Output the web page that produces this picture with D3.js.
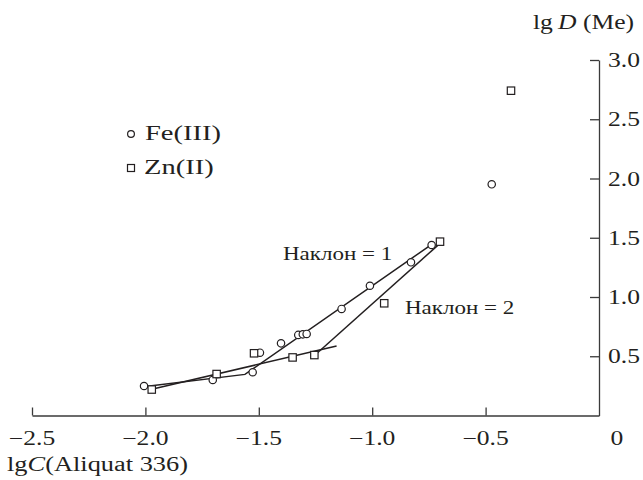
<!DOCTYPE html>
<html><head><meta charset="utf-8">
<script src="https://cdn.jsdelivr.net/npm/d3@7"></script>
<style>body{margin:0;background:#fff}svg{display:block}text{font-family:"Liberation Serif","Times New Roman",serif;fill:#231f20}</style>
</head><body>
<script>
// Data
const feX = [-2.006, -1.703, -1.527, -1.495, -1.402, -1.326, -1.306, -1.289, -1.135, -1.010, -0.829, -0.738, -0.473];
const feY = [0.249, 0.300, 0.365, 0.530, 0.609, 0.680, 0.685, 0.688, 0.899, 1.095, 1.293, 1.439, 1.951];
const znX = [-1.972, -1.686, -1.521, -1.351, -1.255, -0.947, -0.701, -0.388];
const znY = [0.219, 0.350, 0.525, 0.490, 0.510, 0.947, 1.467, 2.741];
const feFitX = [-2.0, -1.561, -0.731];
const feFitY = [0.245, 0.347, 1.453];
const znFitLowX = [-1.972, -1.157];
const znFitLowY = [0.222, 0.586];
const znFitHighX = [-1.252, -0.701];
const znFitHighY = [0.510, 1.453];
const xTicks = [-2.5, -2.0, -1.5, -1.0, -0.5];
const xTickLabels = ["\u22122.5", "\u22122.0", "\u22121.5", "\u22121.0", "\u22120.5"];
const yTicks = [0.5, 1.0, 1.5, 2.0, 2.5, 3.0];
const yTickLabels = ["0.5", "1.0", "1.5", "2.0", "2.5", "3.0"];
const seriesNames = ["Fe(III)", "Zn(II)"];
const slopeLabels = ["Наклон = 1", "Наклон = 2"];

const W = 643, H = 480, SX = 1.28;
const svg = d3.select("body").append("svg").attr("width", W).attr("height", H);
const x = d3.scaleLinear().domain([-2.5, 0]).range([32, 599]);
const y = d3.scaleLinear().domain([0, 3]).range([415.5, 60]);
const ink = "#231f20";

function label(px, py, str, anchor, size, sx) {
  const t = svg.append("text")
    .attr("transform", `translate(${px},${py}) scale(${sx || SX},1)`)
    .attr("text-anchor", anchor || "start")
    .attr("font-size", size || 20);
  return t;
}

// axes
svg.append("g").attr("transform", `translate(0,${y(0)})`)
  .call(d3.axisBottom(x).tickValues(xTicks).tickSizeInner(-8).tickSizeOuter(0).tickFormat(""));
svg.append("g").attr("transform", `translate(${x(0)},0)`)
  .call(d3.axisLeft(y).tickValues(yTicks).tickSizeInner(9).tickSizeOuter(0).tickFormat(""));
svg.selectAll(".domain, .tick line").attr("stroke", "#3a3a3a").attr("stroke-width", 1.3);

xTicks.forEach((v, i) => label(x(v), 445, null, "middle").text(xTickLabels[i]));
label(x(0) + 18, 445, null, "middle").text("0");
yTicks.forEach((v, i) => label(608, y(v) + 7, null, "start").text(yTickLabels[i]));

// axis titles
const yt = label(533, 29, null, "start");
yt.append("tspan").text("lg");
yt.append("tspan").attr("font-style", "italic").text("\u2009D");
yt.append("tspan").text(" (Me)");
const xt = label(7, 471, null, "start", 20, 1.32);
xt.append("tspan").text("lg");
xt.append("tspan").attr("font-style", "italic").text("C");
xt.append("tspan").text("(Aliquat 336)");

// fit lines
const line = d3.line().x(d => x(d[0])).y(d => y(d[1]));
const fits = [
  d3.zip(feFitX, feFitY),
  d3.zip(znFitLowX, znFitLowY),
  d3.zip(znFitHighX, znFitHighY)
];
svg.selectAll("path.fit").data(fits).join("path").attr("class", "fit")
  .attr("d", line).attr("fill", "none").attr("stroke", ink).attr("stroke-width", 1.5);

// markers
svg.selectAll("circle.fe").data(d3.zip(feX, feY)).join("circle").attr("class", "fe")
  .attr("cx", d => x(d[0])).attr("cy", d => y(d[1])).attr("r", 3.7)
  .attr("fill", "#fff").attr("stroke", ink).attr("stroke-width", 1.2);
const sq = 7.4;
svg.selectAll("rect.zn").data(d3.zip(znX, znY)).join("rect").attr("class", "zn")
  .attr("x", d => x(d[0]) - sq / 2).attr("y", d => y(d[1]) - sq / 2)
  .attr("width", sq).attr("height", sq)
  .attr("fill", "#fff").attr("stroke", ink).attr("stroke-width", 1.2);

// slope labels
label(283, 260, null, "start", 18).text(slopeLabels[0]);
label(405, 314, null, "start", 18).text(slopeLabels[1]);

// legend
svg.append("circle").attr("cx", 131).attr("cy", 134).attr("r", 3.4)
  .attr("fill", "#fff").attr("stroke", ink).attr("stroke-width", 1.2);
label(145, 140, null, "start", 21, 1.36).text(seriesNames[0]);
svg.append("rect").attr("x", 131 - 3.5).attr("y", 168 - 3.5).attr("width", 7).attr("height", 7)
  .attr("fill", "#fff").attr("stroke", ink).attr("stroke-width", 1.2);
label(144, 174, null, "start", 21, 1.36).text(seriesNames[1]);
</script>
</body></html>
